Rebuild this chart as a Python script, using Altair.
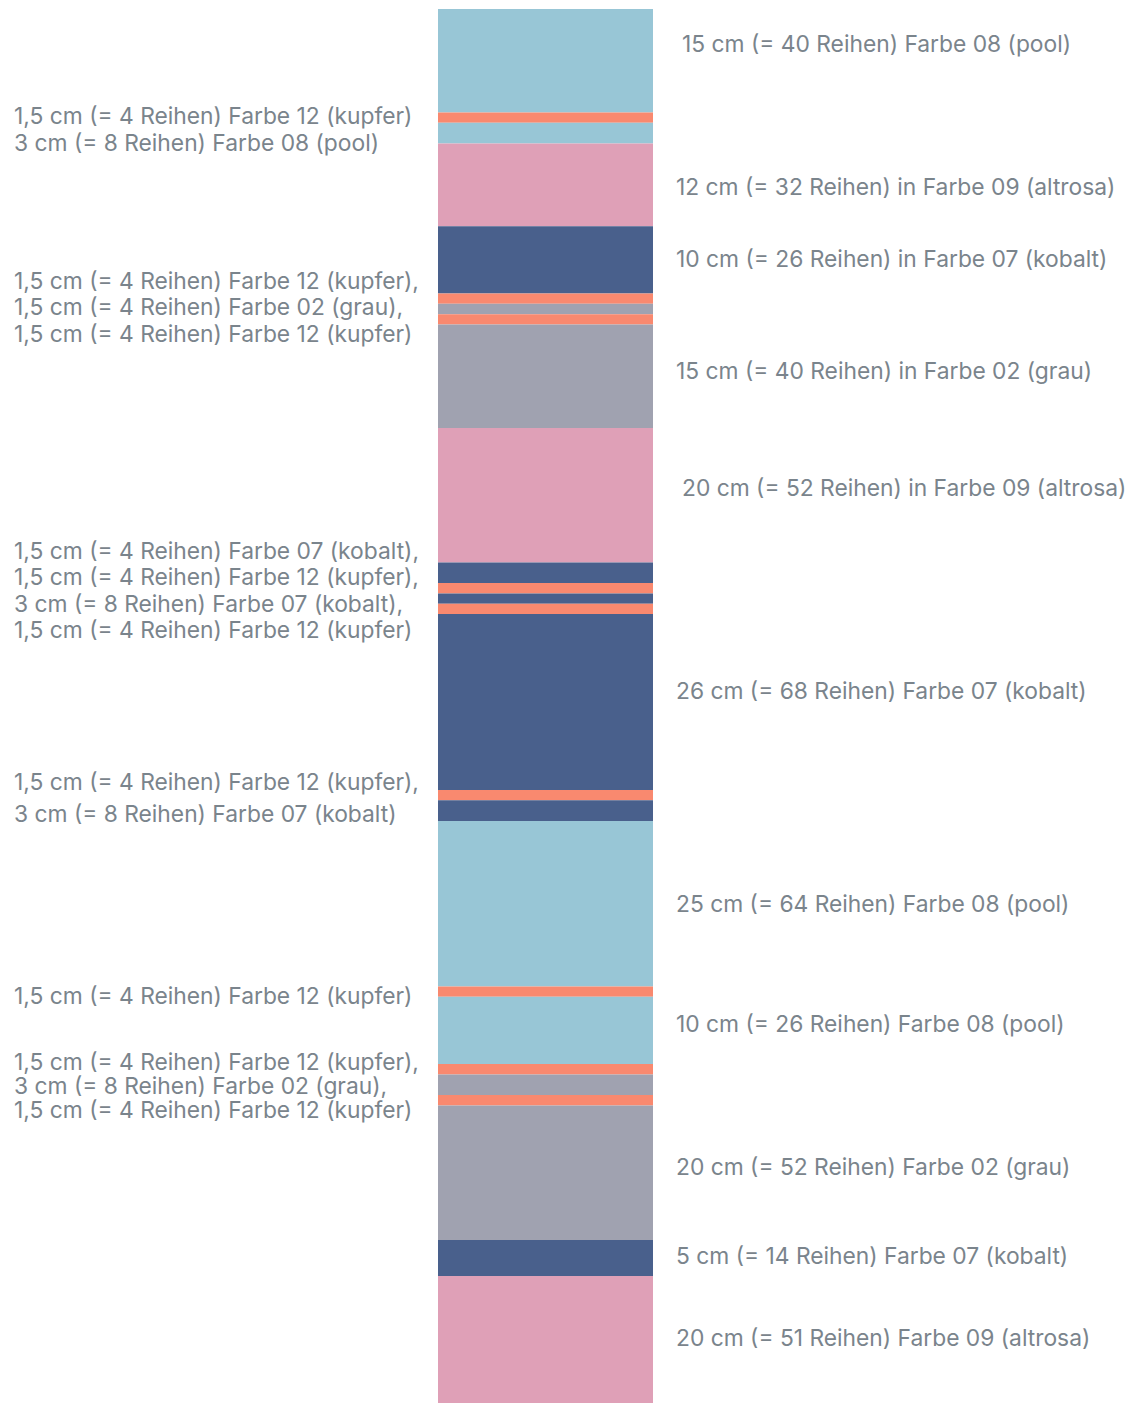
import altair as alt
import pandas as pd

# Stripe sequence, top to bottom (rows = "Reihen")
colors = ["pool", "kupfer", "pool", "altrosa", "kobalt", "kupfer", "grau", "kupfer",
          "grau", "altrosa", "kobalt", "kupfer", "kobalt", "kupfer", "kobalt", "kupfer",
          "kobalt", "pool", "kupfer", "pool", "kupfer", "grau", "kupfer", "grau",
          "kobalt", "altrosa"]
rows = [40, 4, 8, 32, 26, 4, 4, 4, 40, 52, 8, 4, 4, 4, 68, 4, 8, 64, 4, 26, 4, 8, 4, 52, 14, 51]

palette_names = ["pool", "kupfer", "altrosa", "kobalt", "grau"]
palette_hex = ["#98C6D6", "#F9896F", "#DFA0B7", "#49608C", "#A0A2B0"]

left_labels = [
    "1,5 cm (= 4 Reihen) Farbe 12 (kupfer)",
    "3 cm (= 8 Reihen) Farbe 08 (pool)",
    "1,5 cm (= 4 Reihen) Farbe 12 (kupfer),",
    "1,5 cm (= 4 Reihen) Farbe 02 (grau),",
    "1,5 cm (= 4 Reihen) Farbe 12 (kupfer)",
    "1,5 cm (= 4 Reihen) Farbe 07 (kobalt),",
    "1,5 cm (= 4 Reihen) Farbe 12 (kupfer),",
    "3 cm (= 8 Reihen) Farbe 07 (kobalt),",
    "1,5 cm (= 4 Reihen) Farbe 12 (kupfer)",
    "1,5 cm (= 4 Reihen) Farbe 12 (kupfer),",
    "3 cm (= 8 Reihen) Farbe 07 (kobalt)",
    "1,5 cm (= 4 Reihen) Farbe 12 (kupfer)",
    "1,5 cm (= 4 Reihen) Farbe 12 (kupfer),",
    "3 cm (= 8 Reihen) Farbe 02 (grau),",
    "1,5 cm (= 4 Reihen) Farbe 12 (kupfer)",
]
left_at_row = [41.8, 52.2, 105.6, 115.6, 126.1, 210.0, 220.0, 230.5, 240.5,
               299.3, 311.7, 382.1, 407.6, 416.9, 426.1]

right_labels = [
    "15 cm (= 40 Reihen) Farbe 08 (pool)",
    "12 cm (= 32 Reihen) in Farbe 09 (altrosa)",
    "10 cm (= 26 Reihen) in Farbe 07 (kobalt)",
    "15 cm (= 40 Reihen) in Farbe 02 (grau)",
    "20 cm (= 52 Reihen) in Farbe 09 (altrosa)",
    "26 cm (= 68 Reihen) Farbe 07 (kobalt)",
    "25 cm (= 64 Reihen) Farbe 08 (pool)",
    "10 cm (= 26 Reihen) Farbe 08 (pool)",
    "20 cm (= 52 Reihen) Farbe 02 (grau)",
    "5 cm (= 14 Reihen) Farbe 07 (kobalt)",
    "20 cm (= 51 Reihen) Farbe 09 (altrosa)",
]
right_at_row = [13.9, 69.2, 97.0, 140.4, 185.6, 264.1, 346.5, 392.9, 448.2, 482.6, 514.3]
right_indented = [True, False, False, False, True, False, False, False, False, False, False]

# Build stripe table
starts, ends = [], []
acc = 0
for r in rows:
    starts.append(acc)
    acc += r
    ends.append(acc)
stripes = pd.DataFrame({"farbe": colors, "start": starts, "end": ends, "reihen": rows})
total = acc

left_df = pd.DataFrame({"text": left_labels, "pos": left_at_row})
right_df = pd.DataFrame({"text": right_labels, "pos": right_at_row, "ind": right_indented})

yscale = alt.Scale(domain=[0, total], nice=False, zero=False, reverse=True)
TEXT_COLOR = "#7A848C"
FONT = "Inter"
FS = 22.8

bars = alt.Chart(stripes).mark_rect(clip=True).encode(
    y=alt.Y("start:Q", scale=yscale, axis=None),
    y2="end:Q",
    x=alt.value(430),
    x2=alt.value(645),
    color=alt.Color("farbe:N", scale=alt.Scale(domain=palette_names, range=palette_hex), legend=None),
)

left_text = alt.Chart(left_df).mark_text(
    align="left", baseline="middle", font=FONT, fontSize=FS, color=TEXT_COLOR
).encode(
    y=alt.Y("pos:Q", scale=yscale, axis=None),
    x=alt.value(6),
    text="text:N",
)

right_plain = alt.Chart(right_df).transform_filter("!datum.ind").mark_text(
    align="left", baseline="middle", font=FONT, fontSize=FS, color=TEXT_COLOR
).encode(
    y=alt.Y("pos:Q", scale=yscale, axis=None),
    x=alt.value(668),
    text="text:N",
)

right_ind = alt.Chart(right_df).transform_filter("datum.ind").mark_text(
    align="left", baseline="middle", font=FONT, fontSize=FS, color=TEXT_COLOR
).encode(
    y=alt.Y("pos:Q", scale=yscale, axis=None),
    x=alt.value(674),
    text="text:N",
)

chart = alt.layer(bars, left_text, right_plain, right_ind).properties(
    width=1119,
    height=1399,
    background="white",
    padding={"top": 1, "left": 0, "right": 0, "bottom": 0},
).configure_view(stroke=None, strokeWidth=0)

chart.save("out.html", embed_options={"renderer": "svg", "actions": False})
